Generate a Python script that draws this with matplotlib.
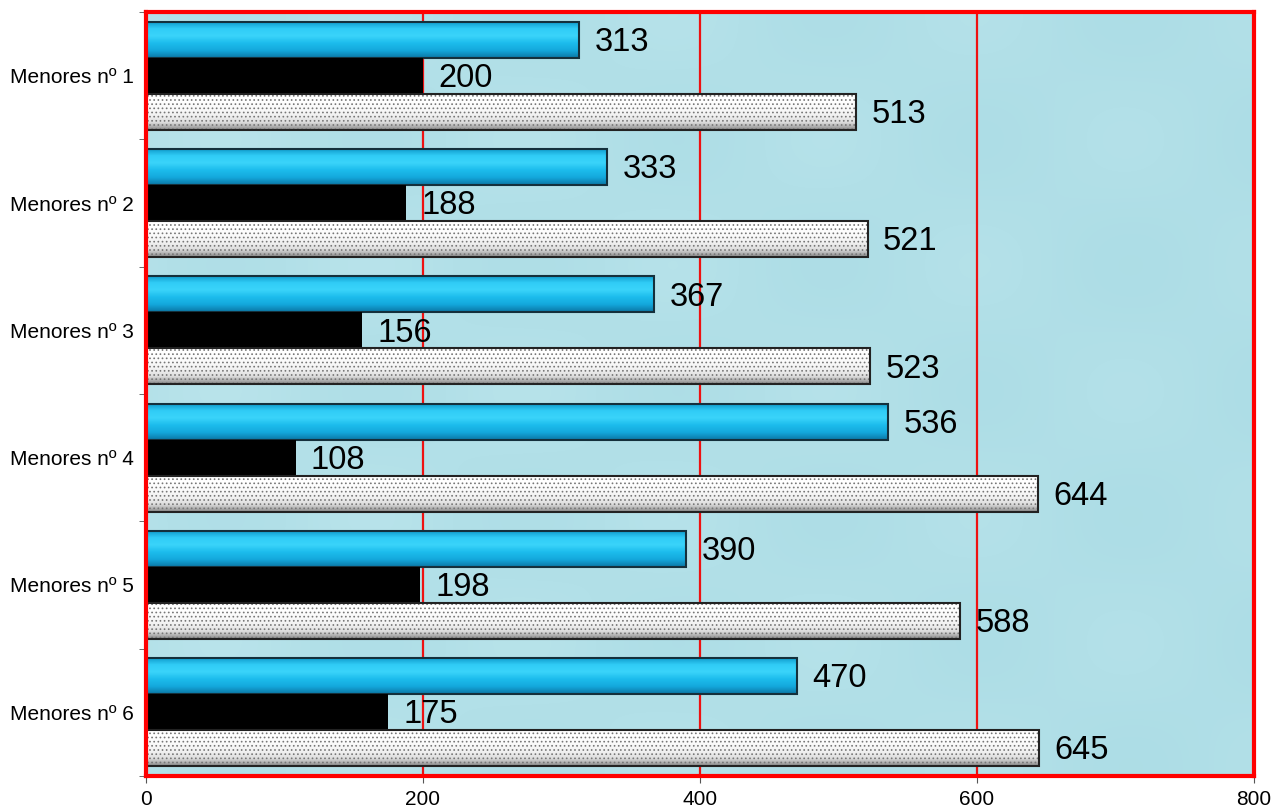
import numpy as np
import matplotlib.pyplot as plt
from matplotlib.colors import LinearSegmentedColormap

plt.rcParams['font.family'] = ['Liberation Sans', 'DejaVu Sans']
plt.rcParams['hatch.linewidth'] = 0.7

categories = ['Menores nº 1', 'Menores nº 2', 'Menores nº 3',
              'Menores nº 4', 'Menores nº 5', 'Menores nº 6']
serie_azul = [313, 333, 367, 536, 390, 470]
serie_negra = [200, 188, 156, 108, 198, 175]
serie_punteada = [513, 521, 523, 644, 588, 645]

fig = plt.figure(figsize=(12.75, 8.09), dpi=100)
ax = fig.add_axes([0.1145, 0.041, 0.869, 0.944])

# fondo tipo "gotas de agua" (solo un degradado suave)
bg = LinearSegmentedColormap.from_list('agua', ['#c6eaf0', '#b2e0e8', '#a6d9e3'])
yy, xx = np.mgrid[0:1:200j, 0:1:300j]
tex = 0.45 + 0.12 * np.sin(xx * 23) * np.cos(yy * 19) + 0.15 * xx
ax.imshow(tex, cmap=bg, extent=(0, 800, 5.5, -0.5), aspect='auto', zorder=0,
          interpolation='bilinear', vmin=0, vmax=1)

y = np.arange(len(categories))
h = 0.283

def shade(bars, colors):
    cmap = LinearSegmentedColormap.from_list('b', colors)
    grad = np.linspace(0, 1, 64).reshape(-1, 1)
    for b in bars:
        x0, y0 = b.get_x(), b.get_y()
        im = ax.imshow(grad, cmap=cmap, aspect='auto', zorder=2,
                       extent=(x0, x0 + b.get_width(), y0 + b.get_height(), y0))
        im.set_clip_path(b)

b1 = ax.barh(y - h, serie_azul, height=h, color='#18b6e8', edgecolor='#14303c',
             linewidth=1.5, zorder=2)
shade(b1, ['#0e98c8', '#30ccf6', '#3ad4fa', '#1cbcec', '#14a8dc', '#0b78a6'])
for b in b1:
    b.set_zorder(3)
    b.set_facecolor('none')

b2 = ax.barh(y, serie_negra, height=h, color='black', linewidth=0, zorder=3)

b3 = ax.barh(y + h, serie_punteada, height=h, color='none', edgecolor='#777777',
             hatch='....', linewidth=0, zorder=3)
shade(b3, ['#ffffff', '#ffffff', '#fafafa', '#f2f2f2', '#dddddd', '#8a8a8a'])
ax.barh(y + h, serie_punteada, height=h, color='none', edgecolor='#222222',
        linewidth=1.5, zorder=4)

for bars in (b1, b2, b3):
    for b in bars:
        ax.annotate(f'{int(b.get_width())}',
                    (b.get_width(), b.get_y() + b.get_height() / 2),
                    xytext=(11, -2), textcoords='offset points',
                    ha='left', va='center', fontsize=23.5, zorder=5)

ax.set_xlim(0, 800)
ax.set_ylim(5.5, -0.5)
for v in (200, 400, 600):
    ax.axvline(v, color='#ee1111', linewidth=1.6, zorder=1)

ax.set_xticks([0, 200, 400, 600, 800])
ax.tick_params(axis='x', labelsize=15, length=5, color='#555555', pad=5)
ax.set_yticks(y)
ax.set_yticklabels(categories, fontsize=15)
ax.tick_params(axis='y', which='major', length=0, pad=9)
ax.set_yticks(np.arange(-0.5, 6, 1), minor=True)
ax.tick_params(axis='y', which='minor', length=5, color='#555555')

for s in ax.spines.values():
    s.set_color('#ff0000')
    s.set_linewidth(3)
    s.set_zorder(6)

plt.savefig('out.png', dpi=100)
